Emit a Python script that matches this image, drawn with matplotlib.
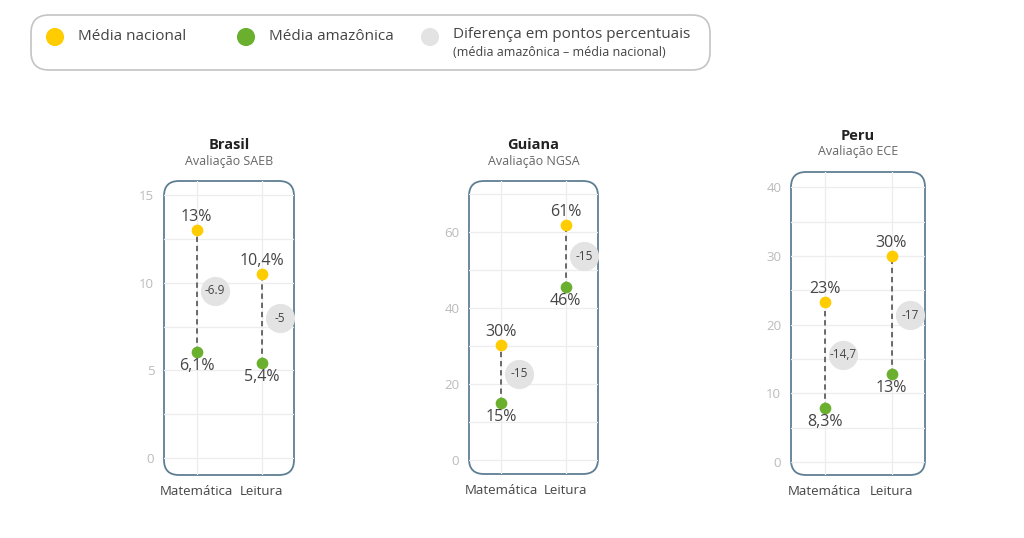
import matplotlib
matplotlib.use("Agg")
import matplotlib.pyplot as plt
from matplotlib.patches import FancyBboxPatch

plt.rcParams['font.family'] = ['Open Sans', 'DejaVu Sans']

# dados
paises = ["Brasil", "Guiana", "Peru"]
avaliacoes = ["Avaliação SAEB", "Avaliação NGSA", "Avaliação ECE"]
disciplinas = ["Matemática", "Leitura"]
media_nacional = [[13.0, 10.5], [30.3, 61.8], [23.3, 30.0]]
media_amazonica = [[6.06, 5.44], [15.0, 45.4], [7.9, 12.8]]
rotulo_nacional = [["13%", "10,4%"], ["30%", "61%"], ["23%", "30%"]]
rotulo_amazonica = [["6,1%", "5,4%"], ["15%", "46%"], ["8,3%", "13%"]]
rotulo_diferenca = [["-6.9", "-5"], ["-15", "-15"], ["-14,7", "-17"]]

# layout de cada painel (pixels: esquerda, topo, direita, base) e escalas
caixas = [(164, 181, 294, 475), (469, 181, 598, 474), (791, 172, 925, 475)]
limites_y = [(-0.97, 15.8), (-3.7, 73.4), (-1.85, 42.2)]
ticks_y = [[0, 5, 10, 15], [0, 20, 40, 60], [0, 10, 20, 30, 40]]
passo_grade = [2.5, 10, 5]

AMARELO = "#FFCC00"
VERDE = "#6AB02E"
CINZA = "#E3E3E3"
BORDA = "#5E7F93"
TEXTO = "#454545"

fig = plt.figure(figsize=(10.24, 5.38), dpi=100)

# eixo de fundo em coordenadas de pixel
fundo = fig.add_axes([0, 0, 1, 1])
fundo.set_xlim(0, 1024)
fundo.set_ylim(538, 0)
fundo.axis("off")

# legenda
leg = FancyBboxPatch((31, 15), 679, 55, boxstyle="round,pad=0,rounding_size=18",
                     facecolor="white", edgecolor="#C4C4C4", linewidth=1.2)
fundo.add_patch(leg)
fundo.scatter([55, 246, 430], [37, 37, 37], s=145, color=[AMARELO, VERDE, CINZA], zorder=3)
fundo.text(78, 36, "Média nacional", fontsize=11, color="#444444", va="center")
fundo.text(269, 36, "Média amazônica", fontsize=11, color="#444444", va="center")
fundo.text(453, 35, "Diferença em pontos percentuais", fontsize=11, color="#444444", va="center")
fundo.text(453, 52, "(média amazônica – média nacional)", fontsize=9, color="#444444", va="center")

for i in range(len(paises)):
    l, t, r, b = caixas[i]
    cx = (l + r) / 2
    fundo.text(cx, t - 36, paises[i], fontsize=10.5, fontweight="bold", color="#222222",
               ha="center", va="center")
    fundo.text(cx, t - 20, avaliacoes[i], fontsize=9, color="#666666",
               ha="center", va="center")
    caixa = FancyBboxPatch((l, t), r - l, b - t, boxstyle="round,pad=0,rounding_size=15",
                           facecolor="white", edgecolor=BORDA, linewidth=1.3, zorder=1)
    fundo.add_patch(caixa)

    ax = fig.add_axes([l / 1024, 1 - b / 538, (r - l) / 1024, (b - t) / 538])
    ax.patch.set_visible(False)
    for s in ax.spines.values():
        s.set_visible(False)
    ax.set_xlim(-0.5, 1.5)
    ax.set_ylim(*limites_y[i])

    # grade
    g = 0.0
    while g <= limites_y[i][1]:
        ln = ax.axhline(g, color="#EDEDED", linewidth=0.9, zorder=0)
        ln.set_clip_path(caixa)
        g += passo_grade[i]
    for x in range(len(disciplinas)):
        ln = ax.axvline(x, color="#EDEDED", linewidth=0.9, zorder=0)
        ln.set_clip_path(caixa)

    ax.set_xticks(range(len(disciplinas)))
    ax.set_xticklabels(disciplinas)
    ax.set_yticks(ticks_y[i])
    ax.tick_params(length=0)
    ax.tick_params(axis="x", labelsize=9.5, labelcolor=TEXTO, pad=7)
    ax.tick_params(axis="y", labelsize=9.5, labelcolor="#BBBBBB", pad=7)

    for j in range(len(disciplinas)):
        yn = media_nacional[i][j]
        ya = media_amazonica[i][j]
        ax.plot([j, j], [ya, yn], linestyle=(0, (3.5, 2.5)), color="#444444", linewidth=1.1, zorder=2)
        ax.scatter([j], [yn], s=55, color=AMARELO, zorder=3)
        ax.scatter([j], [ya], s=55, color=VERDE, zorder=3)
        ax.annotate(rotulo_nacional[i][j], (j, yn), xytext=(0, 9.5), textcoords="offset points",
                    ha="center", va="center", fontsize=11.5, color=TEXTO)
        ax.annotate(rotulo_amazonica[i][j], (j, ya), xytext=(0, -10), textcoords="offset points",
                    ha="center", va="center", fontsize=11.5, color=TEXTO)
        ym = (yn + ya) / 2
        ax.scatter([j + 0.28], [ym], s=400, color=CINZA, zorder=2)
        ax.text(j + 0.28, ym, rotulo_diferenca[i][j], fontsize=8.5, color="#444444",
                ha="center", va="center", zorder=4)

fig.savefig("out.png", dpi=100)
